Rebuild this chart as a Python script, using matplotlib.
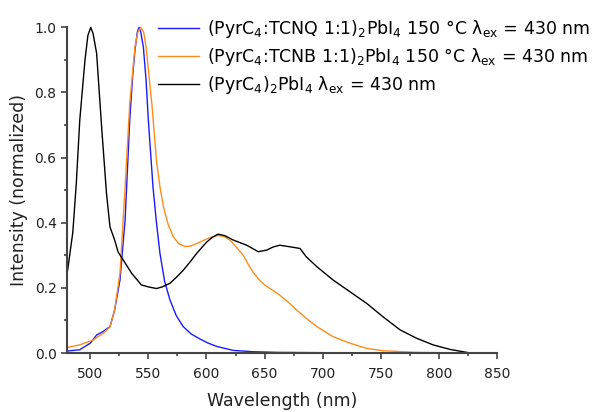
import numpy as np
import matplotlib
matplotlib.use("Agg")
import matplotlib.pyplot as plt

# values
wl_tcnq = [480, 491, 500, 505.5, 511, 517, 521, 525.6, 530, 534, 536.5, 538.5, 540.5, 542,
           543.5, 545.7, 548, 550, 554, 557, 560, 564, 568.6, 574, 580, 587, 594.5, 601,
           609, 623, 640, 660, 700, 760, 830]
int_tcnq = [0.006, 0.01, 0.03, 0.055, 0.066, 0.081, 0.132, 0.224, 0.408, 0.715, 0.85, 0.93, 0.985, 1.0,
            0.985, 0.94, 0.84, 0.715, 0.51, 0.40, 0.306, 0.22, 0.163, 0.115, 0.081, 0.058, 0.043, 0.031,
            0.02, 0.008, 0.004, 0.002, 0.001, 0.0, 0.0]

wl_tcnb = [480, 491, 502.6, 511, 517, 521, 525.6, 530, 534, 538.5, 541, 543.4, 546, 548, 553,
           557, 560, 563, 567, 571.5, 576, 581.5, 586, 591.6, 597, 603, 610, 615, 620, 625,
           631.7, 636, 640, 645, 650, 656, 663, 670, 677.7, 686, 695, 709, 723.5, 738, 752,
           781, 827]
int_tcnb = [0.017, 0.025, 0.04, 0.06, 0.08, 0.132, 0.245, 0.51, 0.766, 0.94, 0.985, 1.0, 0.985, 0.94, 0.766,
            0.59, 0.51, 0.449, 0.395, 0.357, 0.336, 0.327, 0.328, 0.336, 0.345, 0.354, 0.361, 0.358, 0.347, 0.328,
            0.30, 0.272, 0.249, 0.226, 0.209, 0.195, 0.178, 0.157, 0.132, 0.106, 0.081, 0.05, 0.03, 0.014, 0.007,
            0.002, 0.0]

wl_pure = [480, 485, 488, 491, 495.5, 498, 500.4, 502.5, 505.5, 510, 514, 517, 521, 524, 528.5,
           535.6, 544, 550, 557, 562, 568.6, 574, 580, 586, 591.6, 600, 605, 610, 616, 623,
           634.6, 644.6, 652, 657, 663, 672, 680.5, 686, 695, 709, 723.5, 738, 752, 766.6,
           781, 795, 809.6, 827]
int_pure = [0.24, 0.37, 0.52, 0.715, 0.90, 0.975, 1.0, 0.98, 0.92, 0.684, 0.49, 0.387, 0.347, 0.31, 0.285,
            0.245, 0.209, 0.203, 0.198, 0.203, 0.214, 0.232, 0.254, 0.28, 0.306, 0.34, 0.355, 0.365, 0.36, 0.347,
            0.331, 0.311, 0.316, 0.325, 0.331, 0.326, 0.321, 0.295, 0.265, 0.224, 0.188, 0.152, 0.111, 0.071,
            0.045, 0.025, 0.011, 0.0]

labels = [r'(PyrC$_4$:TCNQ 1:1)$_2$PbI$_4$ 150 °C λ$_{\rm ex}$ = 430 nm',
          r'(PyrC$_4$:TCNB 1:1)$_2$PbI$_4$ 150 °C λ$_{\rm ex}$ = 430 nm',
          r'(PyrC$_4$)$_2$PbI$_4$ λ$_{\rm ex}$ = 430 nm']

fig = plt.figure(figsize=(5.97, 4.12), dpi=100)
ax = fig.add_axes([0.1122, 0.1432, 0.7203, 0.7905])

ax.plot(wl_tcnq, int_tcnq, color='#1a1aff', lw=1.0, label=labels[0], clip_on=False)
ax.plot(wl_tcnb, int_tcnb, color='#ff8c1a', lw=1.0, label=labels[1], clip_on=False)
ax.plot(wl_pure, int_pure, color='black', lw=1.0, label=labels[2], clip_on=False)

ax.set_xlim(480, 850)
ax.set_ylim(0, 1.0)
ax.set_xticks(np.arange(500, 851, 50))
ax.set_xticks(np.arange(500, 851, 25), minor=True)
ax.set_yticks(np.arange(0, 1.01, 0.2))
ax.set_yticks(np.arange(0, 1.01, 0.1), minor=True)
ax.yaxis.set_major_formatter(matplotlib.ticker.FormatStrFormatter('%.1f'))

for s in ['top', 'right']:
    ax.spines[s].set_visible(False)
for s in ['left', 'bottom']:
    ax.spines[s].set_color('#444444')
    ax.spines[s].set_linewidth(1.5)
ax.tick_params(which='major', direction='out', length=4, width=1.2, color='#444444',
               labelsize=10, labelcolor='#222222')
ax.tick_params(axis='x', which='major', pad=6)
ax.tick_params(which='minor', direction='out', length=2.5, width=1.2, color='#444444')

ax.set_xlabel('Wavelength (nm)', fontsize=12.5, color='#222222', labelpad=8)
ax.set_ylabel('Intensity (normalized)', fontsize=12.5, color='#222222', labelpad=5)

ax.legend(loc='upper left', bbox_to_anchor=(0.195, 1.05), frameon=False, fontsize=12.5,
          handlelength=2.4, handletextpad=0.45, labelspacing=0.35, borderaxespad=0)

fig.savefig('out.png', dpi=100)
